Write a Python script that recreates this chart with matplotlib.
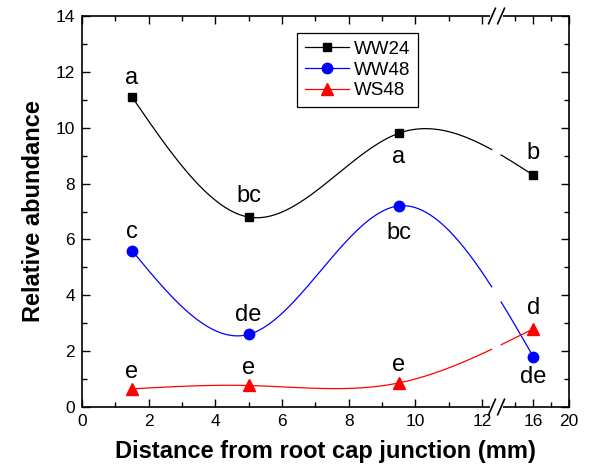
import numpy as np
import matplotlib
matplotlib.use("Agg")
import matplotlib.pyplot as plt
from matplotlib.lines import Line2D
from matplotlib.ticker import FixedLocator

plt.rcParams['font.family'] = ['Liberation Sans', 'DejaVu Sans']

# Measured relative abundance along the root
distance = [1.5, 5.0, 9.5, 16.0]
ww24 = [11.1, 6.8, 9.8, 8.3]
ww48 = [5.6, 2.6, 7.2, 1.8]
ws48 = [0.65, 0.77, 0.86, 2.8]

# Significance letters
ww24_letters = ['a', 'bc', 'a', 'b']
ww48_letters = ['c', 'de', 'bc', 'de']
ws48_letters = ['e', 'e', 'e', 'd']

x_major = [0, 2, 4, 6, 8, 10, 12, 16, 20]
x_minor = [1, 3, 5, 7, 9, 11, 14, 18]

# Broken x axis: linear up to the break, compressed after it
seg_x = [0.0, 12.3, 12.6, 16.0, 20.0]
seg_u = [0.0, 410.0, 420.9, 451.3, 487.0]
BREAK_LO, BREAK_HI = 12.3, 12.55


def fwd(x):
    return np.interp(x, seg_x, seg_u)


def inv(u):
    return np.interp(u, seg_u, seg_x)


def natural_spline(xk, yk, xs):
    xk = np.asarray(xk, float)
    yk = np.asarray(yk, float)
    n = len(xk)
    h = np.diff(xk)
    A = np.zeros((n, n))
    r = np.zeros(n)
    A[0, 0] = A[-1, -1] = 1.0
    for i in range(1, n - 1):
        A[i, i - 1] = h[i - 1]
        A[i, i] = 2 * (h[i - 1] + h[i])
        A[i, i + 1] = h[i]
        r[i] = 3 * ((yk[i + 1] - yk[i]) / h[i] - (yk[i] - yk[i - 1]) / h[i - 1])
    c = np.linalg.solve(A, r)
    b = (yk[1:] - yk[:-1]) / h - h * (2 * c[:-1] + c[1:]) / 3
    d = (c[1:] - c[:-1]) / (3 * h)
    idx = np.clip(np.searchsorted(xk, xs) - 1, 0, n - 2)
    t = xs - xk[idx]
    return yk[idx] + b[idx] * t + c[idx] * t ** 2 + d[idx] * t ** 3


fig = plt.figure(figsize=(5.99, 4.75), dpi=100)
ax = fig.add_axes([82 / 599, 1 - 407 / 475, 487 / 599, 391 / 475])
ax.set_xscale('function', functions=(fwd, inv))
ax.set_xlim(0, 20)
ax.set_ylim(0, 14)

series = [
    (ww24, 'black', 's', 6, 'WW24', ww24_letters, [19, 21, -24, 22]),
    (ww48, 'blue', 'o', 7.5, 'WW48', ww48_letters, [19, 19, -27, -20]),
    (ws48, 'red', '^', 8.5, 'WS48', ws48_letters, [17, 17, 18, 21]),
]

u_knots = fwd(np.array(distance))
u_fine = np.linspace(u_knots[0], u_knots[-1], 800)
x_fine = inv(u_fine)

for vals, col, mk, ms, name, letters, offs in series:
    y_fine = natural_spline(u_knots, vals, u_fine)
    y_plot = np.where((x_fine > BREAK_LO) & (x_fine < BREAK_HI), np.nan, y_fine)
    ax.plot(x_fine, y_plot, color=col, lw=0.9, zorder=2)
    ax.plot(distance, vals, linestyle='none', marker=mk, ms=ms, color=col,
            mec=col, zorder=3)
    ax.plot([], [], color=col, lw=0.9, marker=mk, ms=ms, label=name)
    for xv, yv, txt, off in zip(distance, vals, letters, offs):
        ax.annotate(txt, (xv, yv), xytext=(0, off * 0.72), textcoords='offset points',
                    ha='center', va='center', fontsize=17, zorder=4)

ax.xaxis.set_major_locator(FixedLocator(x_major))
ax.xaxis.set_minor_locator(FixedLocator(x_minor))
ax.set_xticklabels([str(v) for v in x_major])
ax.set_yticks(np.arange(0, 15, 2))
ax.set_yticks(np.arange(1, 14, 2), minor=True)

ax.tick_params(which='both', direction='in', top=True, right=True,
               width=1.0, labelsize=12.5, pad=5, colors='black')
ax.tick_params(which='major', length=5.8)
ax.tick_params(which='minor', length=3.6)

for side in ['left', 'right']:
    ax.spines[side].set_linewidth(1.2)
ax.spines['top'].set_visible(False)
ax.spines['bottom'].set_visible(False)

# Top and bottom axis lines with a gap and slashes at the break
trans = ax.transData
x0_disp = trans.transform((0, 0))[0]
x1_disp = trans.transform((20, 0))[0]
gap_l = trans.transform((12.24, 0))[0]
gap_r = trans.transform((12.6, 0))[0]
sl1 = trans.transform((BREAK_LO, 0))[0]
sl2 = trans.transform((BREAK_HI, 0))[0]
for ypos in [0, 14]:
    yd = trans.transform((0, ypos))[1]
    for xa, xb in [(x0_disp, gap_l), (gap_r, x1_disp)]:
        fig.add_artist(Line2D([xa, xb], [yd, yd], color='black', lw=1.2,
                              transform=None, solid_capstyle='butt'))
    for xc in [sl1, sl2]:
        fig.add_artist(Line2D([xc - 3.4, xc + 3.4], [yd - 7.7, yd + 7.7],
                              color='black', lw=1.2, transform=None))

leg = ax.legend(loc='upper left', bbox_to_anchor=(0.4415, 0.9565), borderaxespad=0,
                fontsize=13.5, handlelength=2.35, handletextpad=0.3,
                borderpad=0.4, labelspacing=0.2, fancybox=False, framealpha=1)
leg.get_frame().set_edgecolor('black')
leg.get_frame().set_linewidth(0.9)

ax.set_xlabel('Distance from root cap junction (mm)', fontsize=17, fontweight='bold',
              labelpad=8)
ax.set_ylabel('Relative abundance', fontsize=17, fontweight='bold', labelpad=8)

fig.savefig('out.png', dpi=100)
